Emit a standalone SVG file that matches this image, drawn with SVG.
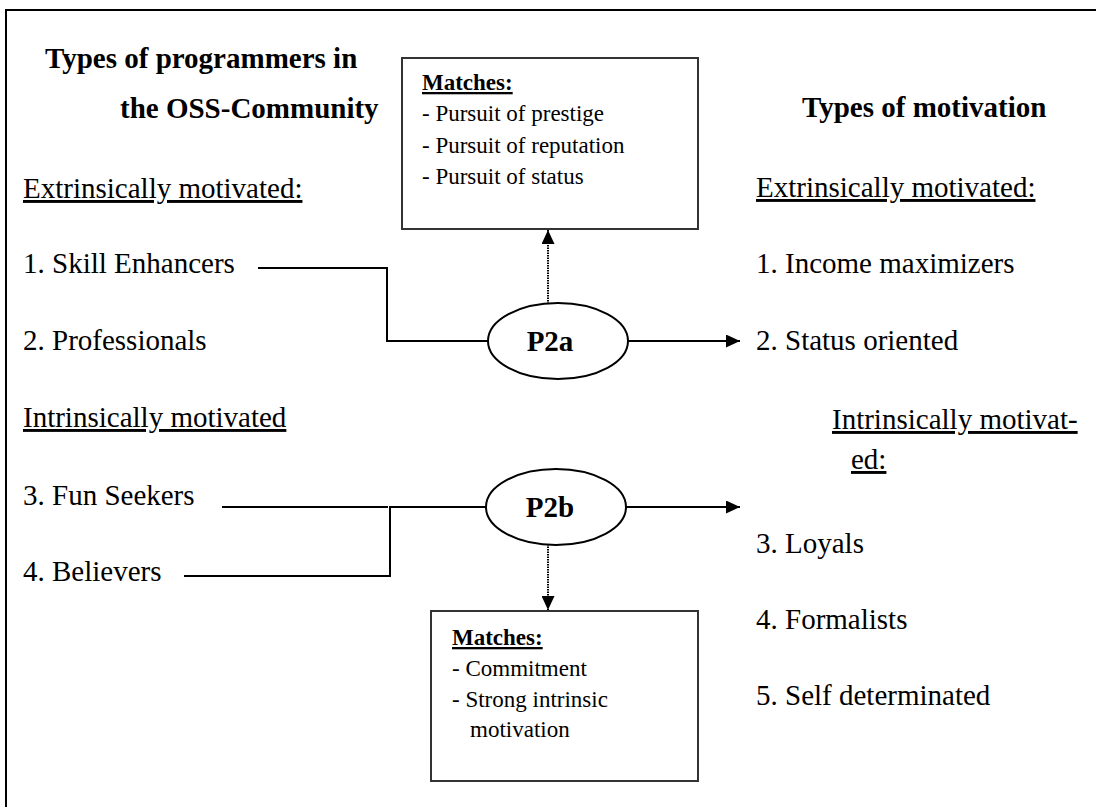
<svg xmlns="http://www.w3.org/2000/svg" width="1096" height="807" viewBox="0 0 1096 807" font-family="'Liberation Serif', 'Times New Roman', serif">
<style>
text{font-family:'Liberation Serif','Times New Roman',serif;fill:#000}
.t{font-size:29px}
.b{font-weight:bold}
.u{text-decoration:underline}
.s{font-size:23px}
.box{fill:#fff;stroke:#333;stroke-width:2}
.ell{fill:#fff;stroke:#000;stroke-width:2}
.ln{fill:none;stroke:#000;stroke-width:2}
.dot{fill:none;stroke:#000;stroke-width:2;stroke-dasharray:1.5 1}
</style>
<defs>
<marker id="ah" viewBox="0 0 10 10" refX="10" refY="5" markerWidth="14" markerHeight="13" markerUnits="userSpaceOnUse" orient="auto" preserveAspectRatio="none">
<path d="M0,0 L10,5 L0,10 z" fill="#000"/>
</marker>
</defs>
<rect x="6" y="10" width="1100" height="810" fill="#fff" stroke="#000" stroke-width="2"/>
<g id="left-column">
<text class="t b" x="45" y="68">Types of programmers in</text>
<text class="t b" x="120" y="118">the OSS-Community</text>
<text class="t u" x="23" y="198">Extrinsically motivated:</text>
<text class="t" x="23" y="273">1. Skill Enhancers</text>
<text class="t" x="23" y="350">2. Professionals</text>
<text class="t u" x="23" y="427">Intrinsically motivated</text>
<text class="t" x="23" y="505">3. Fun Seekers</text>
<text class="t" x="23" y="581">4. Believers</text>
</g>
<g id="right-column">
<text class="t b" x="802" y="117">Types of motivation</text>
<text class="t u" x="756" y="197">Extrinsically motivated:</text>
<text class="t" x="756" y="273">1. Income maximizers</text>
<text class="t" x="756" y="350">2. Status oriented</text>
<text class="t u" x="832" y="429">Intrinsically motivat-</text>
<text class="t u" x="851" y="469">ed:</text>
<text class="t" x="756" y="553">3. Loyals</text>
<text class="t" x="756" y="629">4. Formalists</text>
<text class="t" x="756" y="705">5. Self determinated</text>
</g>
<g id="connectors">
<path class="ln" d="M258,268 H387 V341 H488"/>
<path class="ln" d="M628,341 H740" marker-end="url(#ah)"/>
<path class="dot" d="M548,304 V230" marker-end="url(#ah)"/>
<path class="ln" d="M222,507 H388" stroke-width="1.6"/>
<path class="ln" d="M184,576 H390 V507 H486"/>
<path class="ln" d="M626,507 H740" marker-end="url(#ah)"/>
<path class="dot" d="M548,544 V610" marker-end="url(#ah)"/>
</g>
<g id="box-p2a-matches">
<rect class="box" x="402" y="58" width="296" height="171"/>
<text class="s b u" x="422" y="90">Matches:</text>
<text class="s" x="422" y="121">- Pursuit of prestige</text>
<text class="s" x="422" y="153">- Pursuit of reputation</text>
<text class="s" x="422" y="184">- Pursuit of status</text>
</g>
<g id="node-p2a">
<ellipse class="ell" cx="558" cy="341" rx="70" ry="38"/>
<text class="t b" x="550" y="351" text-anchor="middle">P2a</text>
</g>
<g id="node-p2b">
<ellipse class="ell" cx="556" cy="507" rx="70" ry="38"/>
<text class="t b" x="550" y="517" text-anchor="middle">P2b</text>
</g>
<g id="box-p2b-matches">
<rect class="box" x="431" y="611" width="267" height="170"/>
<text class="s b u" x="452" y="645">Matches:</text>
<text class="s" x="452" y="676">- Commitment</text>
<text class="s" x="452" y="707">- Strong intrinsic</text>
<text class="s" x="470" y="737">motivation</text>
</g>
</svg>
